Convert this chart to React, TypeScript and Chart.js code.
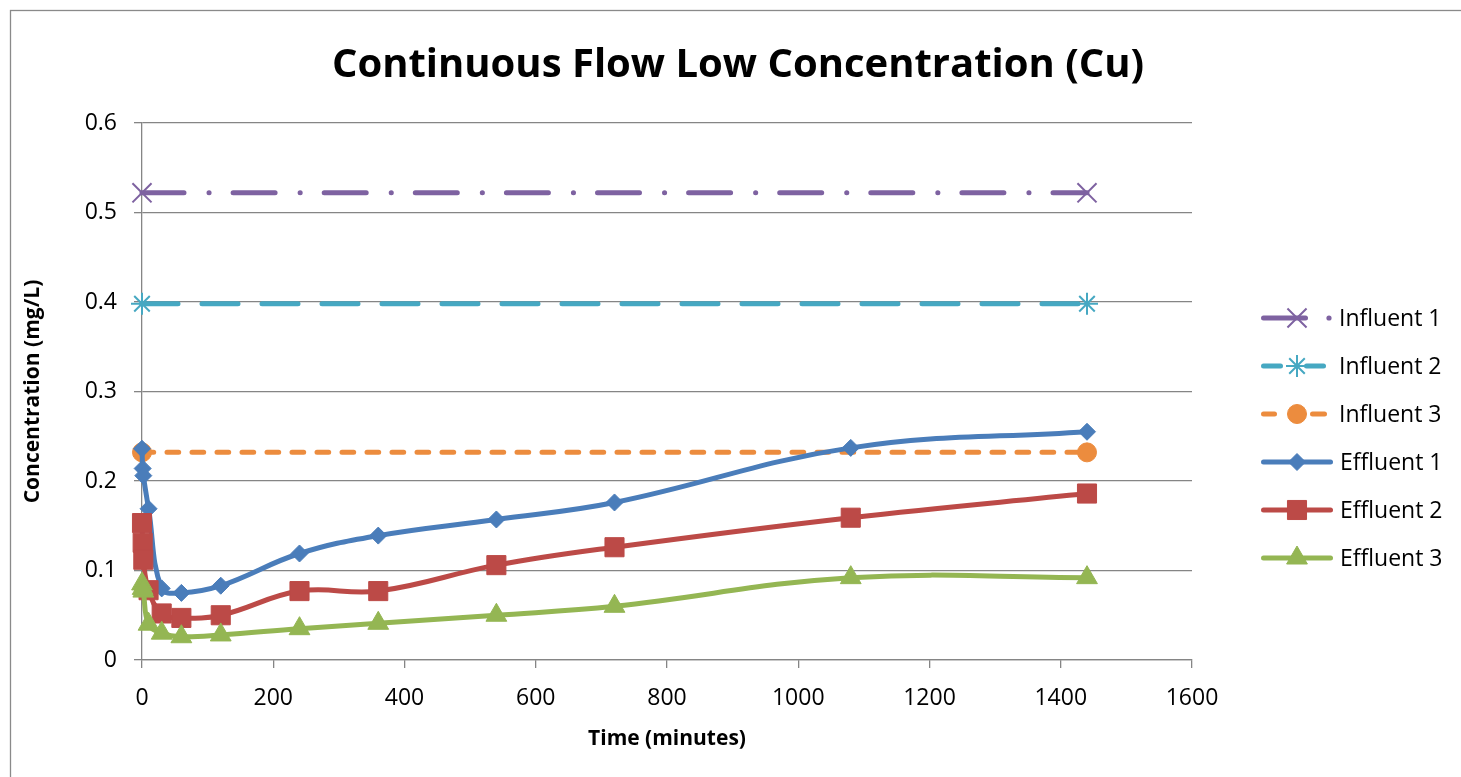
import { useEffect, useRef } from 'react';
import Chart from 'chart.js/auto';
import { drawPoint } from 'chart.js/helpers';

// Sampling times (minutes) for the effluent series
const timeMinutes = [0, 1, 2, 10, 30, 60, 120, 240, 360, 540, 720, 1080, 1440];
const effluent1 = [0.236, 0.214, 0.206, 0.169, 0.080, 0.075, 0.083, 0.119, 0.139, 0.157, 0.176, 0.237, 0.255];
const effluent2 = [0.153, 0.131, 0.112, 0.078, 0.052, 0.047, 0.050, 0.077, 0.077, 0.106, 0.126, 0.159, 0.186];
const effluent3 = [0.085, 0.080, 0.077, 0.040, 0.030, 0.026, 0.028, 0.035, 0.041, 0.050, 0.060, 0.092, 0.092];

// Influent concentrations, measured at start and end of the run
const influentTimes = [0, 1440];
const influent1 = [0.522, 0.522];
const influent2 = [0.398, 0.398];
const influent3 = [0.232, 0.232];

const seriesLabels = ['Influent 1', 'Influent 2', 'Influent 3', 'Effluent 1', 'Effluent 2', 'Effluent 3'];
const yTickLabels = ['0', '0.1', '0.2', '0.3', '0.4', '0.5', '0.6'];
const xTickLabels = ['0', '200', '400', '600', '800', '1000', '1200', '1400', '1600'];

const FONT = "'Open Sans', 'DejaVu Sans', sans-serif";
const GRID = '#858585';

const COLORS = {
  purple: '#7E62A1',
  teal: '#46A8C2',
  orange: '#EC8C3E',
  blue: '#4A7DBA',
  red: '#BC4A47',
  green: '#94B653',
};

const toPoints = (xs: number[], ys: number[]) => xs.map((x, i) => ({ x, y: ys[i] }));

type Marker = { pointStyle: any; radius: number; borderWidth: number };

const markers: Marker[] = [
  { pointStyle: 'crossRot', radius: 13.5, borderWidth: 2 },
  { pointStyle: 'star', radius: 11, borderWidth: 2 },
  { pointStyle: 'circle', radius: 9.5, borderWidth: 1 },
  { pointStyle: 'rectRot', radius: 8.5, borderWidth: 1 },
  { pointStyle: 'rect', radius: 13.5, borderWidth: 1 },
  { pointStyle: 'triangle', radius: 12, borderWidth: 1 },
];
const seriesColors = [COLORS.purple, COLORS.teal, COLORS.orange, COLORS.blue, COLORS.red, COLORS.green];
const lineDashes: number[][] = [[42, 25, 0.1, 24], [36, 24], [11.7, 13.3], [], [], []];

// Legend drawing: line pieces (visible extents), marker position, optional dot
const legendRows = [
  { y: 318, segs: [[1261, 1308]], dot: 1329 },
  { y: 366, segs: [[1261, 1283], [1304, 1326]], dot: null },
  { y: 414, segs: [[1261, 1277], [1310, 1327]], dot: null },
  { y: 462, segs: [[1261, 1333]], dot: null },
  { y: 510, segs: [[1261, 1333]], dot: null },
  { y: 558, segs: [[1261, 1333]], dot: null },
];

const framePlugin = {
  id: 'frame',
  beforeDraw(chart: any) {
    const { ctx, width, height } = chart;
    ctx.save();
    ctx.fillStyle = '#ffffff';
    ctx.fillRect(0, 0, width, height);
    ctx.strokeStyle = '#8a8a8a';
    ctx.lineWidth = 1.3;
    ctx.strokeRect(10.5, 10.5, width + 40, height + 40);
    ctx.restore();
  },
  afterDraw(chart: any) {
    const { ctx } = chart;
    ctx.save();
    ctx.fillStyle = '#000';
    ctx.font = `bold 40px ${FONT}`;
    ctx.textAlign = 'center';
    ctx.textBaseline = 'alphabetic';
    ctx.fillText('Continuous Flow Low Concentration (Cu)', 738, 77);

    ctx.font = `23px ${FONT}`;
    ctx.textAlign = 'left';
    ctx.textBaseline = 'middle';
    legendRows.forEach((row, i) => {
      const color = seriesColors[i];
      const lw = 5;
      ctx.strokeStyle = color;
      ctx.lineWidth = lw;
      ctx.lineCap = 'round';
      ctx.setLineDash([]);
      row.segs.forEach(([a, b]) => {
        ctx.beginPath();
        ctx.moveTo(a + lw / 2, row.y);
        ctx.lineTo(b - lw / 2, row.y);
        ctx.stroke();
      });
      if (row.dot !== null) {
        ctx.fillStyle = color;
        ctx.beginPath();
        ctx.arc(row.dot, row.y, 2.6, 0, Math.PI * 2);
        ctx.fill();
      }
      const m = markers[i];
      ctx.fillStyle = color;
      ctx.strokeStyle = color;
      ctx.lineWidth = m.borderWidth;
      ctx.lineCap = 'butt';
      drawPoint(ctx, { pointStyle: m.pointStyle, radius: m.radius, rotation: 0, borderWidth: m.borderWidth }, 1297, row.y);
      ctx.fillStyle = '#000';
      ctx.fillText(seriesLabels[i], i < 3 ? 1339 : 1340, row.y + 1);
    });
    ctx.restore();
  },
};

export default function App() {
  const canvasRef = useRef<HTMLCanvasElement | null>(null);

  useEffect(() => {
    const canvas = canvasRef.current;
    if (!canvas) return;

    const seriesData = [
      toPoints(influentTimes, influent1),
      toPoints(influentTimes, influent2),
      toPoints(influentTimes, influent3),
      toPoints(timeMinutes, effluent1),
      toPoints(timeMinutes, effluent2),
      toPoints(timeMinutes, effluent3),
    ];

    const datasets = seriesData.map((data, i) => ({
      label: seriesLabels[i],
      data,
      borderColor: seriesColors[i],
      backgroundColor: seriesColors[i],
      pointBackgroundColor: seriesColors[i],
      pointBorderColor: seriesColors[i],
      pointStyle: markers[i].pointStyle,
      pointRadius: markers[i].radius,
      pointBorderWidth: markers[i].borderWidth,
      borderWidth: 5,
      borderDash: lineDashes[i],
      borderCapStyle: 'round',
      borderJoinStyle: 'round',
      tension: i < 3 ? 0 : 0.4,
      fill: false,
      order: 5 - i,
      clip: false,
    }));

    const chart = new Chart(canvas, {
      type: 'line',
      data: { datasets } as any,
      options: {
        responsive: false,
        animation: false,
        events: [],
        layout: { padding: { left: 0, top: 123, right: 269, bottom: 0 } },
        plugins: {
          legend: { display: false },
          title: { display: false },
          tooltip: { enabled: false },
        },
        scales: {
          x: {
            type: 'linear',
            min: 0,
            max: 1600,
            ticks: {
              stepSize: 200,
              padding: 17,
              color: '#000',
              maxRotation: 0,
              autoSkip: false,
              font: { family: FONT, size: 23 },
              callback: (_v: any, i: number) => xTickLabels[i],
            },
            grid: { drawOnChartArea: false, drawTicks: true, tickLength: 8, color: GRID, lineWidth: 1.3 },
            border: { display: true, color: GRID, width: 1.3 },
            title: {
              display: true,
              text: 'Time (minutes)',
              color: '#000',
              font: { family: FONT, size: 21, weight: 'bold' },
              padding: { top: 0, bottom: 25 },
            },
            afterFit: (s: any) => { s.height = 117; },
          },
          y: {
            type: 'linear',
            min: 0,
            max: 0.6,
            ticks: {
              stepSize: 0.1,
              padding: 17,
              color: '#000',
              font: { family: FONT, size: 23 },
              callback: (_v: any, i: number) => yTickLabels[i],
            },
            grid: { drawTicks: true, tickLength: 8, color: GRID, lineWidth: 1.3 },
            border: { display: true, color: GRID, width: 1.3 },
            title: {
              display: true,
              text: 'Concentration (mg/L)',
              color: '#000',
              font: { family: FONT, size: 21, weight: 'bold' },
              padding: { top: 20, bottom: 0 },
            },
            afterFit: (s: any) => { s.width = 142; },
          },
        },
      } as any,
      plugins: [framePlugin],
    });

    return () => chart.destroy();
  }, []);

  return (
    <div style={{ position: 'fixed', left: 0, top: 0, width: 1461, height: 777, background: '#fff', overflow: 'hidden' }}>
      <canvas ref={canvasRef} width={1461} height={777} style={{ display: 'block' }} />
    </div>
  );
}
